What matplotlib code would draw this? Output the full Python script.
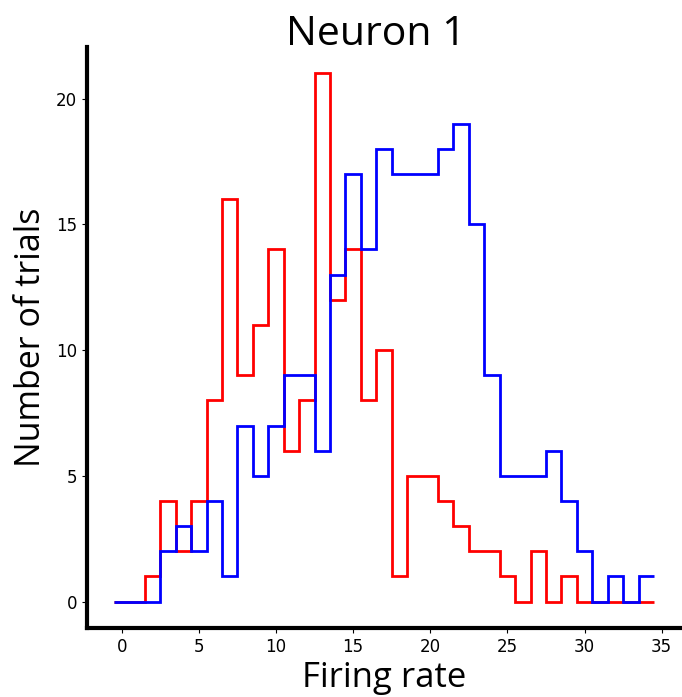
import numpy as np
import matplotlib
matplotlib.use("Agg")
import matplotlib.pyplot as plt

bin_edges = np.arange(-0.5, 35.0, 1.0)
red_counts = [0, 0, 1, 4, 2, 4, 8, 16, 9, 11, 14, 6, 8, 21, 12, 14, 8, 10, 1, 5,
              5, 4, 3, 2, 2, 1, 0, 2, 0, 1, 0, 0, 0, 0, 0]
blue_counts = [0, 0, 0, 2, 3, 2, 4, 1, 7, 5, 7, 9, 9, 6, 13, 17, 14, 18, 17, 17,
               17, 18, 19, 15, 9, 5, 5, 5, 6, 4, 2, 0, 1, 0, 1]
title = "Neuron 1"
xlabel = "Firing rate"
ylabel = "Number of trials"

fig = plt.figure(figsize=(6.82, 6.97), dpi=100)
ax = fig.add_axes([87/682, 69/697, (681-87)/682, (628-47)/697])

ax.stairs(red_counts, bin_edges, baseline=None, color="red", linewidth=2)
ax.stairs(blue_counts, bin_edges, baseline=None, color="blue", linewidth=2)
ax.margins(0.05)

for s in ["top", "right"]:
    ax.spines[s].set_visible(False)
for s in ["left", "bottom"]:
    ax.spines[s].set_linewidth(3)
ax.tick_params(labelsize=12)
ax.set_yticks([0, 5, 10, 15, 20])
ax.set_xticks([0, 5, 10, 15, 20, 25, 30, 35])

ax.set_title(title, fontsize=29.5, family="Open Sans", x=0.486, y=1.0, pad=1.5)
ax.set_xlabel(xlabel, fontsize=25, family="Open Sans", labelpad=4)
ax.set_ylabel(ylabel, fontsize=24.5, family="Open Sans", labelpad=6)

fig.savefig("out.png", dpi=100)
